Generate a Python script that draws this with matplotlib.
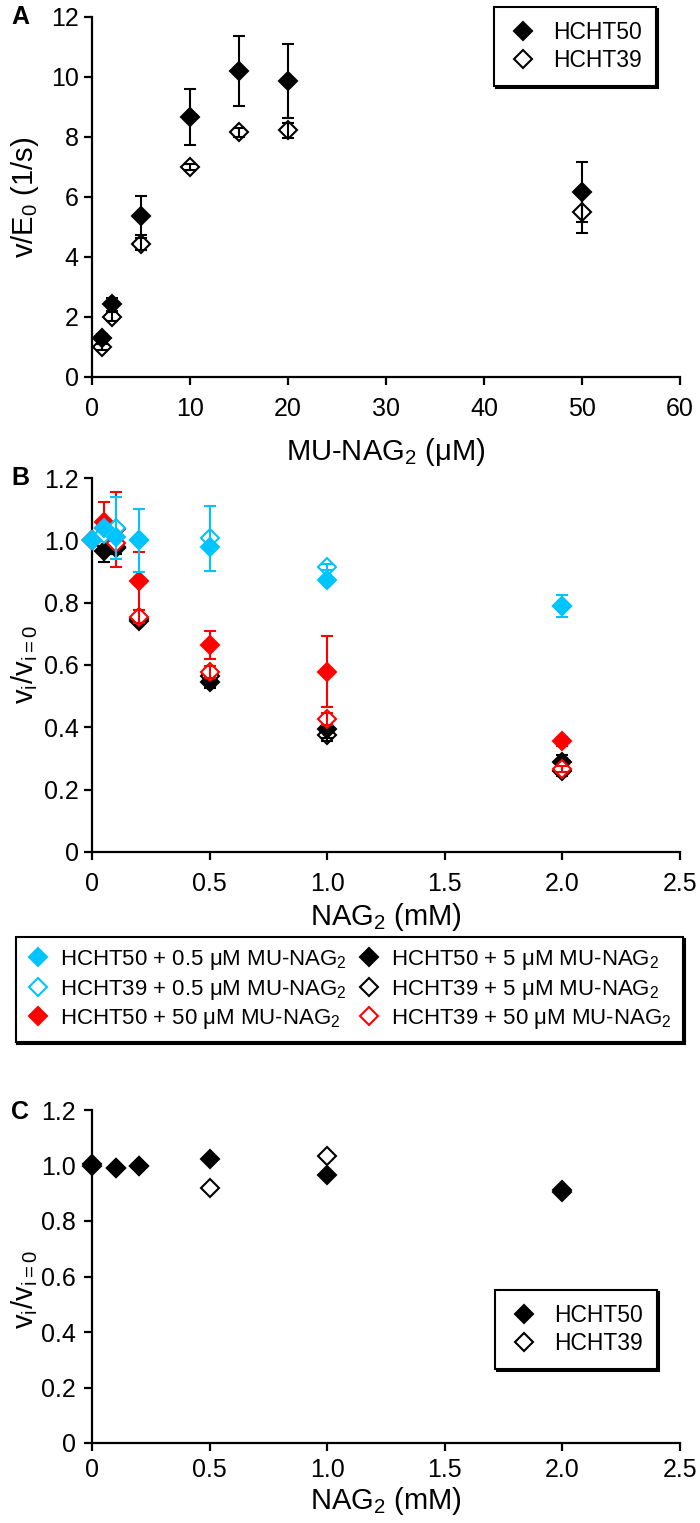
import matplotlib
matplotlib.use('Agg')
import matplotlib.pyplot as plt
from matplotlib.lines import Line2D

plt.rcParams['font.family'] = ['Liberation Sans', 'DejaVu Sans']
plt.rcParams['mathtext.fontset'] = 'custom'
plt.rcParams['mathtext.rm'] = 'Liberation Sans'
plt.rcParams['mathtext.it'] = 'Liberation Sans:italic'
plt.rcParams['mathtext.bf'] = 'Liberation Sans:bold'

CYAN = '#00C4FF'
RED = '#FF0000'
BLACK = '#000000'

# ---- panel A: v/E0 vs MU-NAG2 ----
a_x = [1, 2, 5, 10, 15, 20, 50]
a_hcht50 = [1.28, 2.41, 5.37, 8.67, 10.19, 9.86, 6.17]
a_hcht50_err = [0.15, 0.22, 0.64, 0.93, 1.18, 1.22, 1.0]
a_hcht39 = [0.98, 2.0, 4.41, 7.0, 8.15, 8.22, 5.48]
a_hcht39_err = [0.1, 0.15, 0.2, 0.1, 0.15, 0.25, 0.68]

# ---- panel B: inhibition by NAG2 ----
b_x = [0, 0.05, 0.1, 0.2, 0.5, 1.0, 2.0]
b_50_low = [1.0, 1.04, 1.01, 1.0, 0.978, 0.872, 0.79]
b_50_low_err = [0, 0, 0, 0.1, 0, 0, 0.035]
b_39_low = [1.0, 1.02, 1.04, 1.0, 1.006, 0.914, 0.79]
b_39_low_err = [0, 0, 0.1, 0, 0.105, 0.01, 0]
b_50_mid = [1.0, 0.965, 0.975, 0.746, 0.546, 0.396, 0.29]
b_50_mid_err = [0, 0.035, 0.02, 0.015, 0.02, 0.03, 0.02]
b_39_mid = [1.0, 0.99, 0.98, 0.74, 0.565, 0.375, 0.26]
b_39_mid_err = [0, 0.01, 0.01, 0.01, 0.02, 0.02, 0.015]
b_50_high = [1.0, 1.06, 1.035, 0.87, 0.663, 0.578, 0.355]
b_50_high_err = [0, 0.063, 0.12, 0.093, 0.045, 0.114, 0.015]
b_39_high = [1.0, 1.04, 0.99, 0.755, 0.578, 0.426, 0.267]
b_39_high_err = [0, 0, 0, 0.02, 0.02, 0.02, 0.01]

# ---- panel C ----
c_x = [0, 0.1, 0.2, 0.5, 1.0, 2.0]
c_hcht50 = [1.005, 0.99, 1.0, 1.025, 0.965, 0.91]
c_hcht39 = [1.0, 0.99, 1.0, 0.918, 1.035, 0.905]

nag_ticks = [0, 0.5, 1.0, 1.5, 2.0, 2.5]
nag_ticklabels = ['0', '0.5', '1.0', '1.5', '2.0', '2.5']
ratio_ticks = [0, 0.2, 0.4, 0.6, 0.8, 1.0, 1.2]
ratio_ticklabels = ['0', '0.2', '0.4', '0.6', '0.8', '1.0', '1.2']

W, H = 700, 1523
TICK_FS = 18
LABEL_FS = 21
LEG_FS = 16.5
MS = 8.7
SHADOW = {'ox': 1.2, 'oy': -1.2, 'color': 'black', 'alpha': 1}


def series(ax, x, y, err, color, filled, z):
    face = color if filled else 'white'
    ax.plot(x, y, linestyle='none', marker='D', ms=MS, mfc=face, mec=color,
            mew=1.5, zorder=z, clip_on=False)
    if err is None:
        return
    xs = [xi for xi, e in zip(x, err) if e > 0]
    ys = [yi for yi, e in zip(y, err) if e > 0]
    es = [e for e in err if e > 0]
    ax.errorbar(xs, ys, yerr=es, fmt='none', ecolor=color, elinewidth=1.5,
                capsize=4.5, capthick=1.5, zorder=z + 0.5, clip_on=False)


def style(ax, xlim, ylim, xticks, xlabels, yticks, ylabels, xpad, ypad):
    ax.set_xlim(*xlim)
    ax.set_ylim(*ylim)
    ax.set_xticks(xticks)
    ax.set_xticklabels(xlabels)
    ax.set_yticks(yticks)
    ax.set_yticklabels(ylabels)
    for s in ['top', 'right']:
        ax.spines[s].set_visible(False)
    for s in ['left', 'bottom']:
        ax.spines[s].set_linewidth(1.6)
    ax.tick_params(axis='both', direction='out', length=5.5, width=1.6,
                   labelsize=TICK_FS)
    ax.tick_params(axis='x', pad=xpad)
    ax.tick_params(axis='y', pad=ypad)


def axes_px(fig, top, bottom, left=92, right=680):
    return fig.add_axes([left / W, 1 - bottom / H, (right - left) / W, (bottom - top) / H])


def h(color, filled):
    return Line2D([], [], ls='none', marker='D', ms=MS, mfc=color if filled else 'white',
                  mec=color, mew=1.5)


def legend(handles, labels, x, y, fs=LEG_FS, **kw):
    leg = fig.legend(handles, labels, loc='upper left', bbox_to_anchor=(x / W, 1 - y / H),
                     fontsize=fs, frameon=True, fancybox=False, edgecolor=BLACK,
                     framealpha=1, borderaxespad=0, shadow=SHADOW, **kw)
    leg.get_frame().set_linewidth(1.5)
    return leg


fig = plt.figure(figsize=(W / 100, H / 100), dpi=100)

# panel A
axA = axes_px(fig, 16.7, 376.7)
series(axA, a_x, a_hcht39, a_hcht39_err, BLACK, False, 3)
series(axA, a_x, a_hcht50, a_hcht50_err, BLACK, True, 4)
style(axA, (0, 60), (0, 12), range(0, 61, 10), [str(v) for v in range(0, 61, 10)],
      range(0, 13, 2), [str(v) for v in range(0, 13, 2)], 9, 4)
axA.set_xlabel('MU-NAG$_2$ (μM)', fontsize=LABEL_FS)
axA.xaxis.set_label_coords(0.5, -0.165)
fig.text(25 / W, 1 - 197 / H, 'v/E$_0$ (1/s)', rotation=90, ha='center', va='center',
         fontsize=LABEL_FS)
fig.text(20 / W, 1 - 17 / H, 'A', fontsize=18, fontweight='bold', ha='center', va='center')
legA = [h(BLACK, True), h(BLACK, False)]
legend(legA, ['HCHT50', 'HCHT39'], 494, 7, borderpad=0.6, labelspacing=0.25,
       handlelength=1.3, handletextpad=0.7)

# panel B
axB = axes_px(fig, 478, 852)
series(axB, b_x, b_39_mid, b_39_mid_err, BLACK, False, 3)
series(axB, b_x, b_50_mid, b_50_mid_err, BLACK, True, 4)
series(axB, b_x, b_50_high, b_50_high_err, RED, True, 5)
series(axB, b_x, b_39_high, b_39_high_err, RED, False, 6)
series(axB, b_x, b_39_low, b_39_low_err, CYAN, False, 7)
series(axB, b_x, b_50_low, b_50_low_err, CYAN, True, 8)
style(axB, (0, 2.5), (0, 1.2), nag_ticks, nag_ticklabels, ratio_ticks, ratio_ticklabels, 9, 4)
axB.set_xlabel('NAG$_2$ (mM)', fontsize=LABEL_FS)
axB.xaxis.set_label_coords(0.5, -0.13)
fig.text(25 / W, 1 - 665 / H, 'v$_\\mathrm{i}$/v$_\\mathrm{i=0}$', rotation=90,
         ha='center', va='center', fontsize=LABEL_FS)
fig.text(20 / W, 1 - 478 / H, 'B', fontsize=18, fontweight='bold', ha='center', va='center')

legB_handles = [h(CYAN, True), h(CYAN, False), h(RED, True),
                h(BLACK, True), h(BLACK, False), h(RED, False)]
legB_labels = ['HCHT50 + 0.5 μM MU-NAG$_2$', 'HCHT39 + 0.5 μM MU-NAG$_2$',
               'HCHT50 + 50 μM MU-NAG$_2$', 'HCHT50 + 5 μM MU-NAG$_2$',
               'HCHT39 + 5 μM MU-NAG$_2$', 'HCHT39 + 50 μM MU-NAG$_2$']
legend(legB_handles, legB_labels, 15.6, 937, fs=16, ncol=2, borderpad=0.5,
       labelspacing=0.25, handlelength=1.0, handletextpad=0.5, columnspacing=0.5)

# panel C
axC = axes_px(fig, 1110, 1443)
series(axC, c_x, c_hcht39, None, BLACK, False, 3)
series(axC, c_x, c_hcht50, None, BLACK, True, 4)
style(axC, (0, 2.5), (0, 1.2), nag_ticks, nag_ticklabels, ratio_ticks, ratio_ticklabels, 5, 6)
axC.set_xlabel('NAG$_2$ (mM)', fontsize=LABEL_FS)
axC.xaxis.set_label_coords(0.5, -0.125)
fig.text(25 / W, 1 - 1290 / H, 'v$_\\mathrm{i}$/v$_\\mathrm{i=0}$', rotation=90,
         ha='center', va='center', fontsize=LABEL_FS)
fig.text(20 / W, 1 - 1112 / H, 'C', fontsize=18, fontweight='bold', ha='center', va='center')
legend(legA, ['HCHT50', 'HCHT39'], 495, 1290, borderpad=0.6, labelspacing=0.25,
       handlelength=1.3, handletextpad=0.7)

fig.savefig('out.png', dpi=100)
